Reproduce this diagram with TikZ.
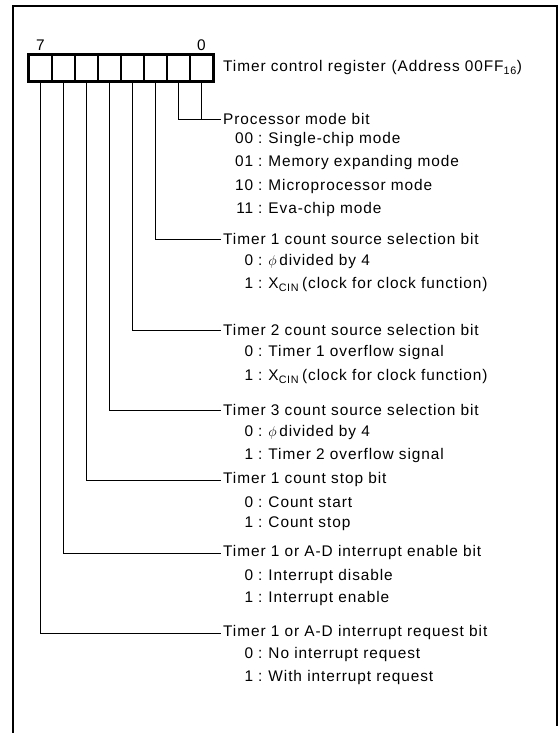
\documentclass[tikz,border=0pt]{standalone}
\usepackage{fontspec}
\setmainfont[LetterSpace=6]{Liberation Sans}
\newcommand{\sep}{\hspace{5pt}:\hspace{6pt}}
\begin{document}
\begin{tikzpicture}[x=1pt,y=-1pt,
  txt/.style={inner sep=2pt, font=\fontsize{15.4}{17}\selectfont},
  head/.style={txt, anchor=west},
  item/.style={txt, anchor=west},
  cell/.style={draw, line width=1.4pt, minimum width=23pt, minimum height=26pt, inner sep=0pt},
  leader/.style={line width=0.9pt},
  frame/.style={line width=2pt}]
\useasboundingbox (0,0) rectangle (559,733);
% outer frame
\draw[frame] (13,733) -- (13,6) -- (557,6) -- (557,726);
% register cells
\foreach \i in {0,...,7}{
  \node[cell] (b\i) at ({201.5-23*\i},68) {};
}
\draw[line width=2.6pt] (b7.north west) rectangle (b0.south east);
\node[txt] (n7) at (b7.center |- 0,45) {7};
\node[txt] (n0) at (b0.center |- 0,45) {0};
\node[head] (title) at (221,68) {Timer control register\hspace{6pt}(Address 00FF\textsubscript{16})};
% headings
\node[head] (pm) at (221,119) {Processor mode bit};
\node[item] (pm1) at (229,140) {\makebox[22pt][r]{00}\sep Single-chip mode};
\node[item] (pm2) at (229,163) {\makebox[22pt][r]{01}\sep Memory expanding mode};
\node[item] (pm3) at (229,187) {\makebox[22pt][r]{10}\sep Microprocessor mode};
\node[item] (pm4) at (229,210) {\makebox[22pt][r]{11}\sep Eva-chip mode};
\node[head] (ta) at (221,239) {Timer 1 count source selection bit};
\node[item] (ta1) at (229,262) {\makebox[22pt][r]{0}\sep $\phi$\,divided by 4};
\node[item] (ta2) at (229,285) {\makebox[22pt][r]{1}\sep X\textsubscript{CIN}\hspace{3pt}(clock for clock function)};
\node[head] (tb) at (221,330) {Timer 2 count source selection bit};
\node[item] (tb1) at (229,353) {\makebox[22pt][r]{0}\sep Timer 1 overflow signal};
\node[item] (tb2) at (229,377) {\makebox[22pt][r]{1}\sep X\textsubscript{CIN}\hspace{3pt}(clock for clock function)};
\node[head] (tc) at (221,410) {Timer 3 count source selection bit};
\node[item] (tc1) at (229,433) {\makebox[22pt][r]{0}\sep $\phi$\,divided by 4};
\node[item] (tc2) at (229,456) {\makebox[22pt][r]{1}\sep Timer 2 overflow signal};
\node[head] (st) at (221,480) {Timer 1 count stop bit};
\node[item] (st1) at (229,502) {\makebox[22pt][r]{0}\sep Count start};
\node[item] (st2) at (229,524) {\makebox[22pt][r]{1}\sep Count stop};
\node[head] (en) at (221,553) {Timer 1 or A-D interrupt enable bit};
\node[item] (en1) at (229,577) {\makebox[22pt][r]{0}\sep Interrupt disable};
\node[item] (en2) at (229,599) {\makebox[22pt][r]{1}\sep Interrupt enable};
\node[head] (rq) at (221,633) {Timer 1 or A-D interrupt request bit};
\node[item] (rq1) at (229,655) {\makebox[22pt][r]{0}\sep No interrupt request};
\node[item] (rq2) at (229,678) {\makebox[22pt][r]{1}\sep With interrupt request};
% leaders
\draw[leader] (b0.south) -- (b0.south |- pm.west);
\draw[leader] (b1.south) |- (pm.west);
\draw[leader] (b2.south) |- (ta.west);
\draw[leader] (b3.south) |- (tb.west);
\draw[leader] (b4.south) |- (tc.west);
\draw[leader] (b5.south) |- (st.west);
\draw[leader] (b6.south) |- (en.west);
\draw[leader] (b7.south) |- (rq.west);
\end{tikzpicture}
\end{document}
